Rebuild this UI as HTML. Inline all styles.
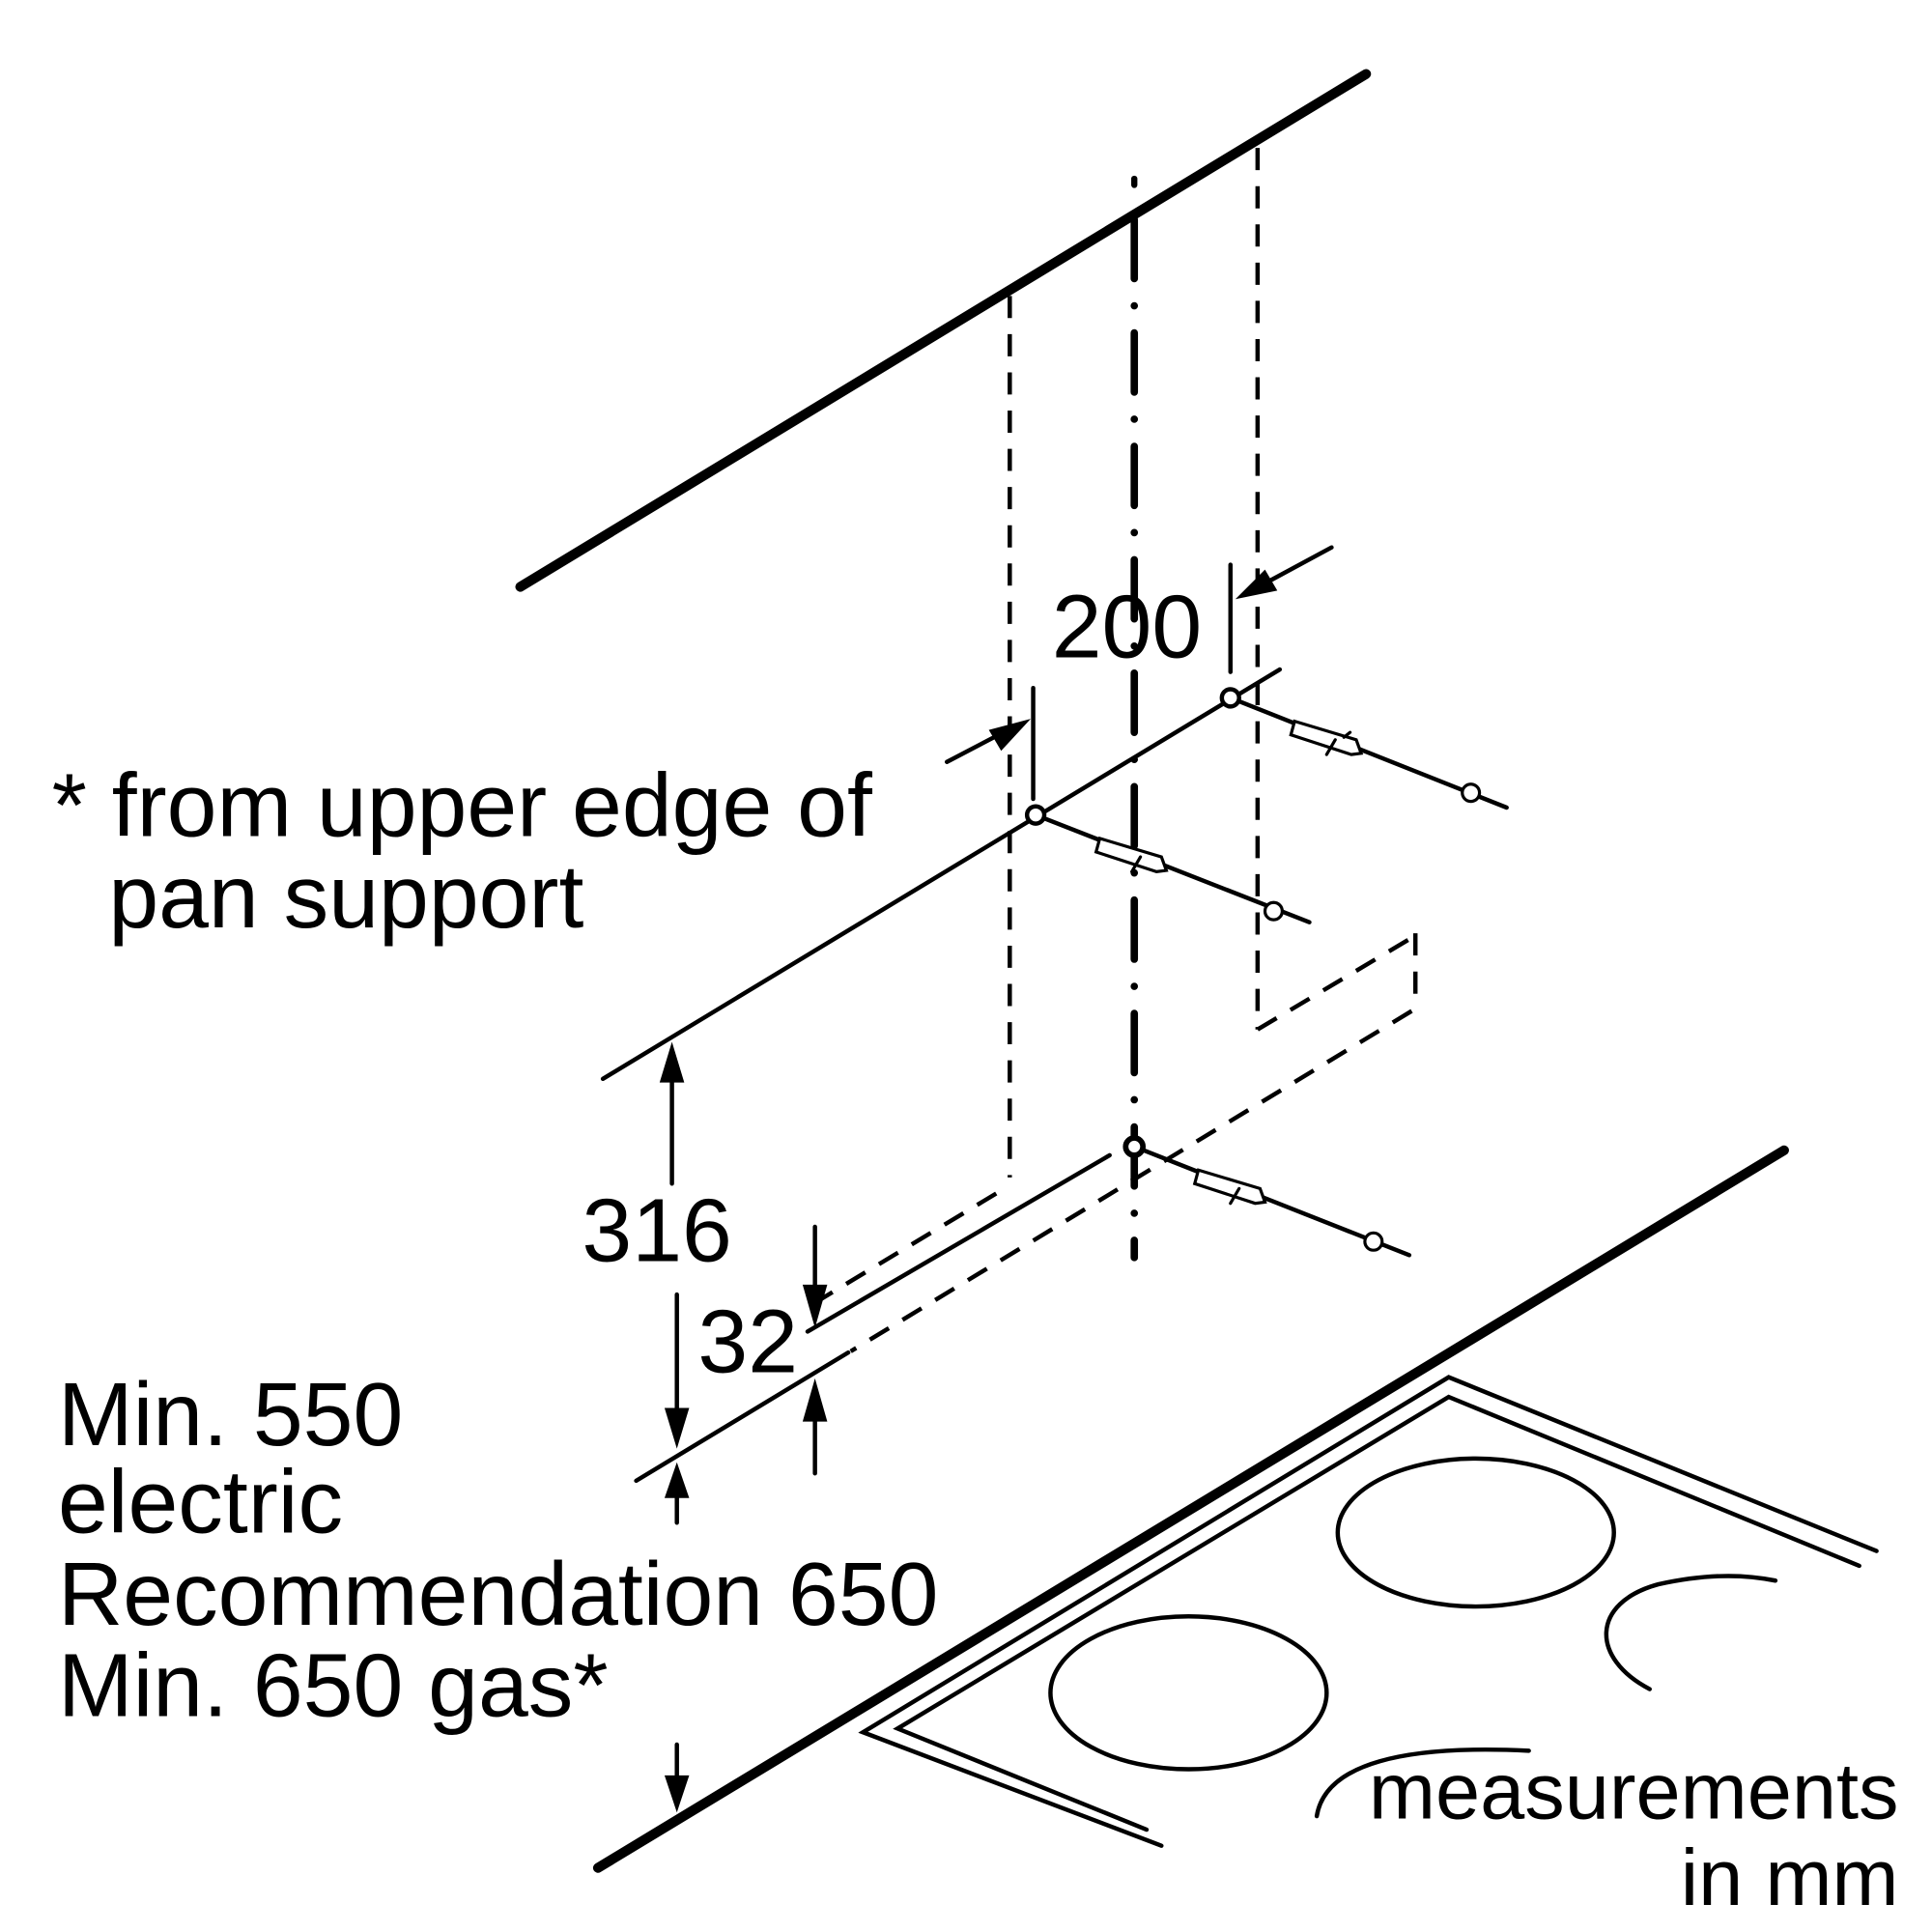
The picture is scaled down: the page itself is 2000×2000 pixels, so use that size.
<!DOCTYPE html>
<html><head><style>html,body{margin:0;padding:0;background:#fff}svg{display:block}</style></head><body>
<svg width="2000" height="2000" viewBox="0 0 1567 1567" xmlns="http://www.w3.org/2000/svg" font-family="Liberation Sans, Arial, sans-serif">
<g stroke="#000" fill="none" stroke-linecap="round">
<line x1="422" y1="476" x2="1108" y2="60" stroke-width="8"/>
<line x1="920" y1="178" x2="920" y2="1020" stroke-width="6" stroke-dasharray="48,22,0,22" stroke-linecap="round"/>
<line x1="920" y1="145" x2="920" y2="150" stroke-width="5"/>
<line x1="819" y1="240" x2="819" y2="955" stroke-width="3.5" stroke-dasharray="18,13" stroke-linecap="butt"/>
<line x1="1020" y1="120" x2="1020" y2="835" stroke-width="3.5" stroke-dasharray="18,13" stroke-linecap="butt"/>
<line x1="489" y1="875" x2="1038" y2="543" stroke-width="3.5"/>
<line x1="838" y1="558" x2="838" y2="648" stroke-width="3.5"/>
<line x1="998" y1="458" x2="998" y2="545" stroke-width="3.5"/>
<line x1="768" y1="618" x2="810" y2="596" stroke-width="3.5"/>
<line x1="1080" y1="444" x2="1030" y2="471" stroke-width="3.5"/>
<line x1="1020" y1="835" x2="1146" y2="760" stroke-width="3.5" stroke-dasharray="18,13" stroke-linecap="butt"/>
<line x1="1148" y1="757" x2="1148" y2="808" stroke-width="3.5" stroke-dasharray="18,13" stroke-linecap="butt"/>
<line x1="1145" y1="820" x2="690" y2="1096" stroke-width="3.5" stroke-dasharray="18,13" stroke-linecap="butt"/>
<line x1="808" y1="968" x2="662" y2="1056" stroke-width="3.5" stroke-dasharray="18,13" stroke-linecap="butt"/>
<line x1="655" y1="1080" x2="900" y2="937" stroke-width="3.5"/>
<line x1="516" y1="1201" x2="688" y2="1097" stroke-width="3.5"/>
<line x1="998" y1="566" x2="1222" y2="655" stroke-width="3.5"/>
<line x1="840" y1="661" x2="1062" y2="748" stroke-width="3.5"/>
<line x1="920" y1="930" x2="1143" y2="1018" stroke-width="3.5"/>
<g stroke-width="2.5" fill="#fff">
<path d="M1050 585 L1100 600 L1104 611 L1096 612 L1047 596 Z"/><path d="M1083 600 L1076 612 M1090 598 L1095 594"/>
<circle cx="1193" cy="643" r="7"/>
<path d="M892 680 L942 695 L946 706 L938 707 L889 691 Z"/><path d="M925 695 L918 707"/>
<circle cx="1033" cy="739" r="7"/>
<path d="M972 949 L1022 964 L1026 975 L1018 976 L969 960 Z"/><path d="M1005 964 L998 976"/>
<circle cx="1114" cy="1007" r="7"/>
</g>
<circle cx="998" cy="566" r="7" stroke-width="3.5" fill="#fff"/>
<circle cx="840" cy="661" r="7" stroke-width="3.5" fill="#fff"/>
<circle cx="920" cy="930" r="7" stroke-width="4.5" fill="#fff"/>
<line x1="545" y1="960" x2="545" y2="870" stroke-width="3.5"/>
<line x1="549" y1="1050" x2="549" y2="1150" stroke-width="3.5"/>
<line x1="549" y1="1235" x2="549" y2="1210" stroke-width="3.5"/>
<line x1="549" y1="1415" x2="549" y2="1445" stroke-width="3.5"/>
<line x1="661" y1="995" x2="661" y2="1045" stroke-width="3.5"/>
<line x1="661" y1="1195" x2="661" y2="1150" stroke-width="3.5"/>
<line x1="485" y1="1515" x2="1447" y2="933" stroke-width="8"/>
<polyline points="942,1497 700,1405 1175,1117 1522,1258" stroke-width="3.5"/>
<polyline points="930,1484 728,1402 1175,1133 1508,1270" stroke-width="3.5"/>
<ellipse cx="1197" cy="1243" rx="112" ry="60" stroke-width="3.5"/>
<ellipse cx="964" cy="1373" rx="112" ry="62" stroke-width="3.5"/>
<path d="M1338 1370 C1290 1345 1290 1300 1345 1285 C1390 1275 1420 1278 1440 1282" stroke-width="3.5"/>
<path d="M1068 1473 C1075 1430 1140 1415 1240 1420" stroke-width="3.5"/>
</g>
<g fill="#000">
<polygon points="836,583 802,592 812,609"/>
<polygon points="1002,486 1026,462 1036,479"/>
<polygon points="545,845 535,878 555,878"/>
<polygon points="549,1175 539,1142 559,1142"/>
<polygon points="549,1186 539,1215 559,1215"/>
<polygon points="549,1470 539,1440 559,1440"/>
<polygon points="661,1077 651,1042 671,1042"/>
<polygon points="661,1118 651,1153 671,1153"/>
</g>
<g font-size="73" fill="#000">
<text x="853" y="533">200</text>
<text x="472" y="1023">316</text>
<text x="566" y="1113">32</text>
<text x="42" y="678">* from upper edge of</text>
<text x="88" y="752">pan support</text>
<text x="47" y="1172">Min. 550</text>
<text x="47" y="1243">electric</text>
<text x="47" y="1318">Recommendation 650</text>
<text x="47" y="1392">Min. 650 gas*</text>
</g>
<g font-size="65" fill="#000">
<text x="1540" y="1475" text-anchor="end">measurements</text>
<text x="1540" y="1545" text-anchor="end">in mm</text>
</g>
</svg>
</body></html>
